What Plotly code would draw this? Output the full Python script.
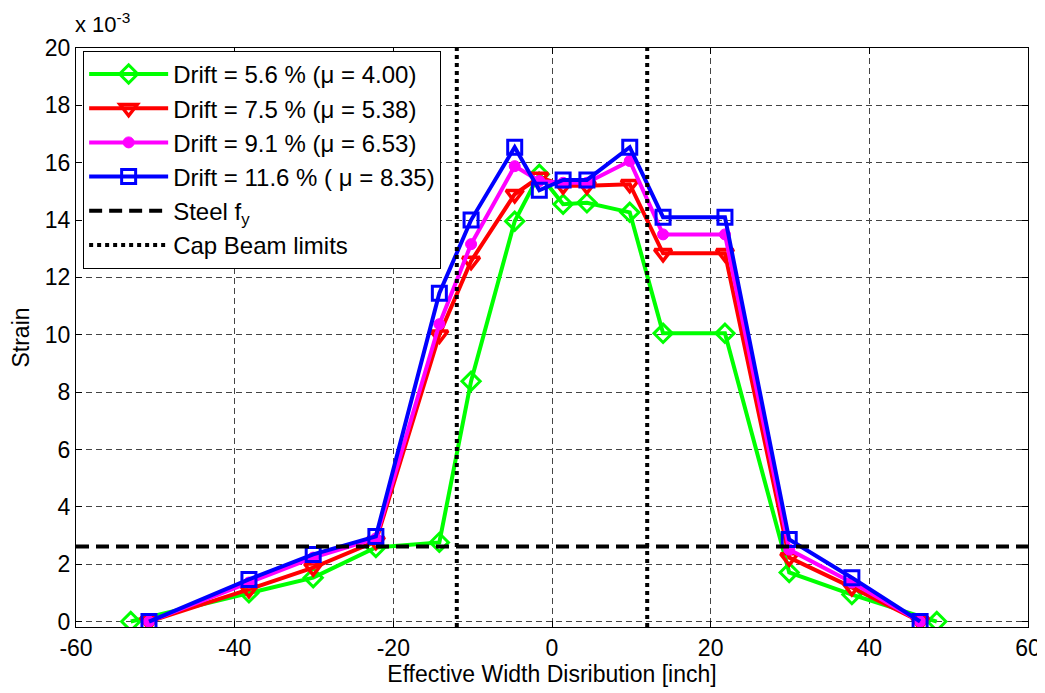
import plotly.graph_objects as go

# ---- data (strain in units of 1e-3) ----
x_green = [-53.1, -38.2, -30.1, -22.2, -14.2, -10.2, -4.7, -1.6, 1.4, 4.4, 9.8, 14.0, 21.8, 29.9, 37.8, 48.5]
y_green = [0, 1.0, 1.53, 2.58, 2.76, 8.38, 13.96, 15.6, 14.55, 14.6, 14.27, 10.05, 10.05, 1.71, 0.94, 0]

x_other = [-50.8, -38.2, -30.1, -22.2, -14.2, -10.2, -4.7, -1.6, 1.4, 4.4, 9.8, 14.0, 21.8, 29.9, 37.8, 46.4]
y_red = [0, 1.12, 1.88, 2.8, 10.0, 12.57, 14.9, 15.5, 15.2, 15.2, 15.25, 12.84, 12.84, 2.23, 1.19, 0]
y_magenta = [0, 1.36, 2.23, 2.9, 10.37, 13.16, 15.88, 15.36, 15.3, 15.3, 16.06, 13.5, 13.5, 2.51, 1.36, 0]
y_blue = [0, 1.47, 2.34, 2.97, 11.45, 14.0, 16.54, 15.04, 15.4, 15.4, 16.54, 14.1, 14.1, 2.86, 1.53, 0]

steel_fy = 2.62
cap_beam_limits = [-12, 12]

names = ["Drift = 5.6 % (μ = 4.00)", "Drift = 7.5 % (μ = 5.38)",
         "Drift = 9.1 % (μ = 6.53)", "Drift = 11.6 % ( μ = 8.35)"]

x_range = [-60, 60]
y_range = [-0.19, 20]
x_ticks = [-60, -40, -20, 0, 20, 40, 60]
x_ticklabels = ["-60", "-40", "-20", "0", "20", "40", "60"]
y_ticks = [0, 2, 4, 6, 8, 10, 12, 14, 16, 18, 20]

FONT = "Liberation Sans, Arial, sans-serif"

fig = go.Figure()

series = [
    (x_green, y_green, "#00ff00", "diamond-open", 14, 3),
    (x_other, y_red, "#ff0000", "triangle-down-open", 15, 3.5),
    (x_other, y_magenta, "#ff00ff", "circle", 11, 1),
    (x_other, y_blue, "#0000ff", "square-open", 14, 3),
]
for (xs, ys, col, sym, sz, mlw), nm in zip(series, names):
    fig.add_trace(go.Scatter(
        x=xs, y=ys, mode="lines+markers", name=nm,
        line=dict(color=col, width=4),
        marker=dict(symbol=sym, size=sz, color=col, line=dict(color=col, width=mlw)),
        legendgroup=nm,
    ))

fig.add_trace(go.Scatter(
    x=x_range, y=[steel_fy, steel_fy], mode="lines", name="Steel f<sub>y</sub>",
    line=dict(color="black", width=4, dash="13px,7px"), legendgroup="fy",
))
cx, cy = [], []
for c in cap_beam_limits:
    cx += [c, c, None]
    cy += [y_range[0], y_range[1], None]
fig.add_trace(go.Scatter(
    x=cx, y=cy, mode="lines", name="Cap Beam limits",
    line=dict(color="black", width=4, dash="dot"), legendgroup="cap",
))

axis_common = dict(
    showline=True, linecolor="black", linewidth=1, mirror="ticks",
    ticks="inside", ticklen=6, tickcolor="black",
    showgrid=True, gridcolor="#444444", gridwidth=1, griddash="6px,4px",
    zeroline=False, tickfont=dict(family=FONT, size=23, color="black"),
    automargin=False,
)

fig.update_xaxes(range=x_range, tickvals=x_ticks, ticktext=x_ticklabels, **axis_common,
                 title=dict(text="Effective Width Disribution [inch]",
                            font=dict(family=FONT, size=23, color="black"), standoff=5))
fig.update_yaxes(range=y_range, tickvals=y_ticks, **axis_common,
                 title=dict(text="Strain", font=dict(family=FONT, size=23, color="black"), standoff=10))

fig.add_annotation(xref="paper", yref="paper", x=0, y=1, xanchor="left", yanchor="bottom",
                   text="x 10<sup>-3</sup>", showarrow=False, yshift=9, xshift=-3,
                   font=dict(family=FONT, size=22, color="black"))

# the page body adds an 8px offset; size the figure so the plot area lands where the reference has it
fig.update_layout(
    width=1037, height=685,
    margin=dict(l=68, r=17, t=40, b=66, autoexpand=False),
    plot_bgcolor="white", paper_bgcolor="white",
    font=dict(family=FONT, size=23, color="black"),
    legend=dict(x=0.0075, y=0.995, xanchor="left", yanchor="top",
                bgcolor="white", bordercolor="black", borderwidth=1,
                font=dict(family=FONT, size=24, color="black"),
                itemwidth=79, tracegroupgap=0),
    showlegend=True,
)

fig.write_html("out.html")
